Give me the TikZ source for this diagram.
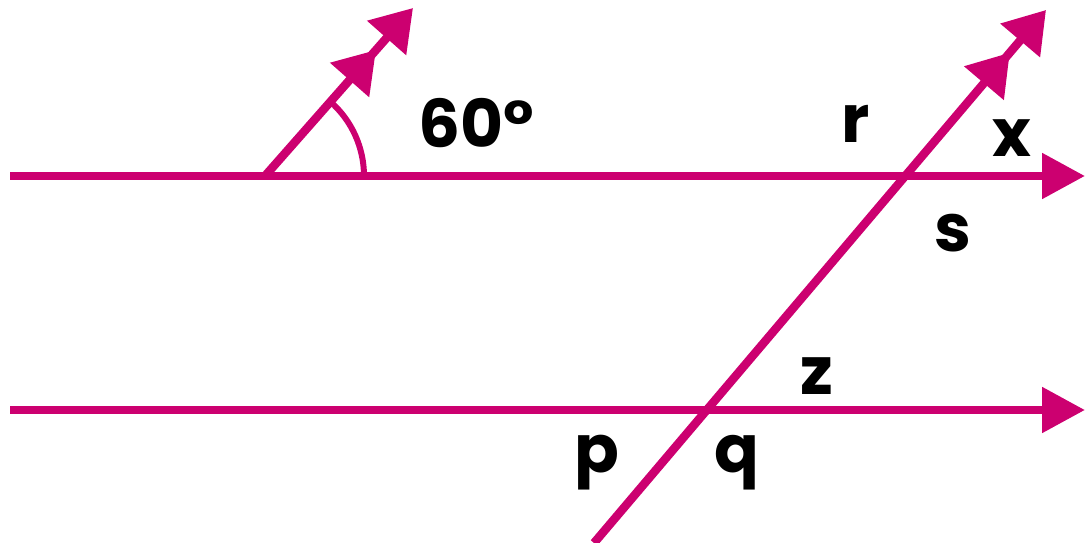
\documentclass[tikz,border=0pt]{standalone}
\usepackage{fontspec}
\setmainfont{Poppins}
\usetikzlibrary{arrows.meta, calc}
\definecolor{angMagenta}{HTML}{CC0070}

\begin{document}
\begin{tikzpicture}[
    x=1pt, y=1pt,
    ray/.style={
        draw=angMagenta, line width=8.5pt
    },
    oneTip/.style={
        -{Triangle[length=43pt, width=44pt]}
    },
    twoTip/.style={
        -{Triangle[length=40pt, width=50pt, sep=16pt] Triangle[length=40pt, width=50pt]}
    },
    lbl/.style={
        font=\fontsize{66}{66}\selectfont\bfseries, text=black, inner sep=0pt
    }
]
\useasboundingbox (0,0) rectangle (1085,543);

% === Parallel lines ===
\coordinate (topL) at (10,367);
\coordinate (topR) at (1085,367);
\coordinate (botL) at (10,133);
\coordinate (botR) at (1085,133);
\draw[ray, oneTip] (topL) -- (topR);
\draw[ray, oneTip] (botL) -- (botR);

% === Transversal ===
\coordinate (trB) at (594,0);
\coordinate (trT) at (1046,533);
\draw[ray, twoTip] (trB) -- (trT);

% === Ray with the given angle ===
\coordinate (rayO) at (265,367);
\coordinate (rayT) at (413,535);
\draw[ray, twoTip] (rayO) -- (rayT);
\draw[angMagenta, line width=6pt] ($(rayO)+(99,0)$) arc[start angle=0, end angle=48.6, radius=99];

% === Labels ===
\node[lbl] (l60) at (476,420) {60°};
\node[lbl] (lr) at (856,419) {r};
\node[lbl] (lx) at (1012,405) {x};
\node[lbl] (ls) at (953,310) {s};
\node[lbl] (lz) at (817,167) {z};
\node[lbl] (lp) at (597,80) {p};
\node[lbl] (lq) at (737,80) {q};

\end{tikzpicture}
\end{document}
